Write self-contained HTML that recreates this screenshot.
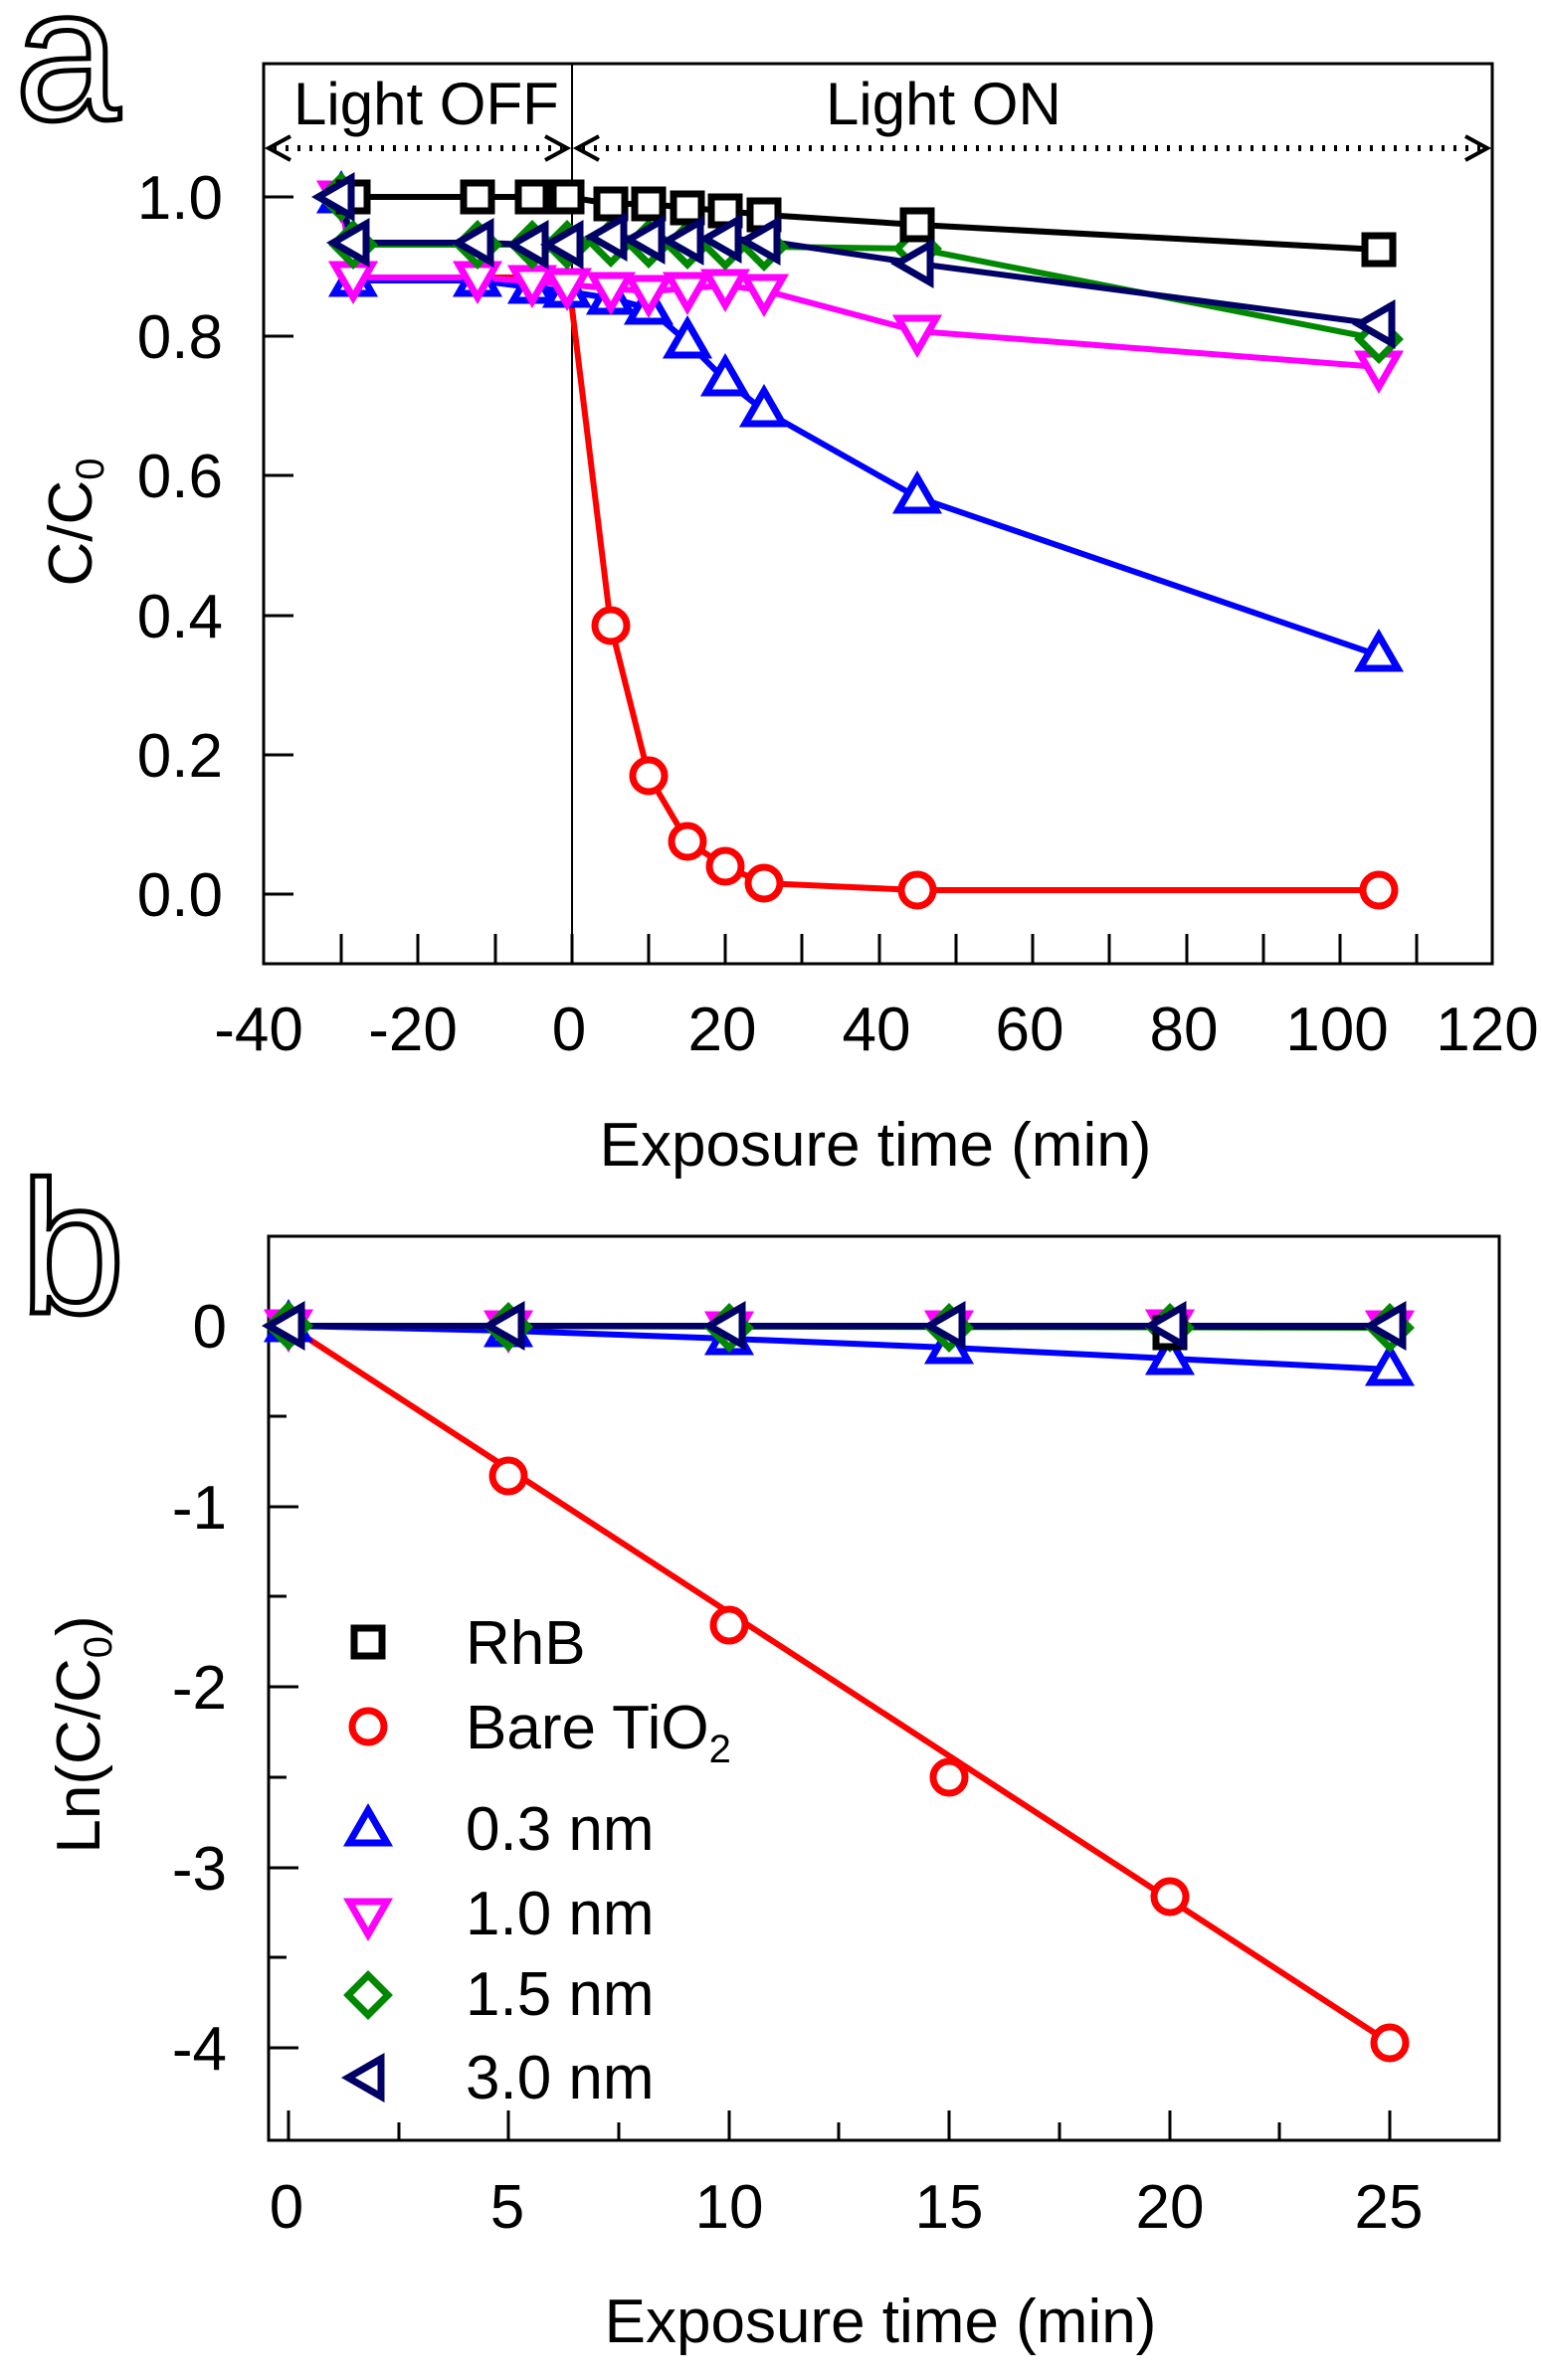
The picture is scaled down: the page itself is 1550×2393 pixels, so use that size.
<!DOCTYPE html>
<html><head><meta charset="utf-8"><style>html,body{margin:0;padding:0;background:#fff}svg{display:block}</style></head>
<body>
<svg width="1550" height="2393" viewBox="0 0 1550 2393" xmlns="http://www.w3.org/2000/svg" font-family="Liberation Sans, sans-serif">
<defs>
<symbol id="sq" overflow="visible"><rect x="-14" y="-14" width="28" height="28" fill="#fff" stroke-width="7"/></symbol>
<symbol id="ci" overflow="visible"><circle r="16" fill="#fff" stroke-width="7"/></symbol>
<symbol id="tu" overflow="visible"><polygon points="0,-20 19,13 -19,13" fill="#fff" stroke-width="7"/></symbol>
<symbol id="td" overflow="visible"><polygon points="0,20 19,-13 -19,-13" fill="#fff" stroke-width="7"/></symbol>
<symbol id="di" overflow="visible"><polygon points="0,-20 20,0 0,20 -20,0" fill="#fff" stroke-width="7"/></symbol>
<symbol id="tl" overflow="visible"><polygon points="-20,0 13,-19 13,19" fill="#fff" stroke-width="7"/></symbol>
</defs>
<rect width="1550" height="2393" fill="#fff"/>

<!-- Panel a -->
<text x="15" y="120" font-size="190" fill="#fff" stroke="#000" stroke-width="5">a</text>
<rect x="265" y="64" width="1235" height="905" fill="none" stroke="#000" stroke-width="3"/>
<line x1="575" y1="64" x2="575" y2="969" stroke="#000" stroke-width="2"/>
<g stroke="#000" stroke-width="3">
<line x1="265" y1="198" x2="295" y2="198"/><line x1="265" y1="338" x2="295" y2="338"/><line x1="265" y1="478" x2="295" y2="478"/><line x1="265" y1="619" x2="295" y2="619"/><line x1="265" y1="759" x2="295" y2="759"/><line x1="265" y1="899" x2="295" y2="899"/>
<line x1="343" y1="969" x2="343" y2="939"/><line x1="420" y1="969" x2="420" y2="939"/><line x1="498" y1="969" x2="498" y2="939"/><line x1="575" y1="969" x2="575" y2="939"/><line x1="652" y1="969" x2="652" y2="939"/><line x1="729" y1="969" x2="729" y2="939"/><line x1="806" y1="969" x2="806" y2="939"/><line x1="884" y1="969" x2="884" y2="939"/><line x1="961" y1="969" x2="961" y2="939"/><line x1="1038" y1="969" x2="1038" y2="939"/><line x1="1115" y1="969" x2="1115" y2="939"/><line x1="1193" y1="969" x2="1193" y2="939"/><line x1="1270" y1="969" x2="1270" y2="939"/><line x1="1347" y1="969" x2="1347" y2="939"/><line x1="1424" y1="969" x2="1424" y2="939"/>
</g>
<g font-size="62" text-anchor="end" fill="#000">
<text x="224" y="220">1.0</text><text x="224" y="360">0.8</text><text x="224" y="500">0.6</text><text x="224" y="641">0.4</text><text x="224" y="781">0.2</text><text x="224" y="921">0.0</text>
</g>
<g font-size="62" text-anchor="middle" fill="#000">
<text x="260" y="1056">-40</text><text x="415" y="1056">-20</text><text x="572" y="1056">0</text><text x="726" y="1056">20</text><text x="881" y="1056">40</text><text x="1035" y="1056">60</text><text x="1190" y="1056">80</text><text x="1344" y="1056">100</text><text x="1495" y="1056">120</text>
<text x="880" y="1172">Exposure time (min)</text>
</g>
<text transform="translate(92,525) rotate(-90)" font-size="62" text-anchor="middle">C/C<tspan font-size="40" dy="12">0</tspan></text>
<text x="295" y="125" font-size="60">Light OFF</text>
<text x="830" y="125" font-size="60">Light ON</text>
<g stroke="#000" stroke-width="6" stroke-dasharray="3,9" fill="none"><line x1="275" y1="149" x2="565" y2="149"/><line x1="585" y1="149" x2="1490" y2="149"/></g>
<g stroke="#000" stroke-width="4" fill="none"><polyline points="292,137 270,149 292,161"/><polyline points="548,137 570,149 548,161"/><polyline points="602,137 580,149 602,161"/><polyline points="1473,137 1495,149 1473,161"/></g>

<g fill="none" stroke-width="6">
<polyline stroke="#000" points="355,198 480,198 535,198 570,198 614,205 652,205 691,209 729,212 768,216 922,226 1386,251"/>
<polyline stroke="#f00" points="355,279 570,279 575,310 614,629 652,780 691,846 729,871 768,888 922,895 1386,895"/>
<polyline stroke="#00f" points="343,198 355,282 480,282 535,289 570,293 614,300 652,310 691,344 729,382 768,413 922,500 1386,659"/>
<polyline stroke="#f0f" points="343,198 355,279 480,279 535,283 570,286 614,290 652,293 691,290 729,287 768,292 922,333 1386,369"/>
<polyline stroke="#080" points="343,198 355,246 480,246 535,246 570,246 614,244 652,245 691,246 729,247 768,248 922,250 1386,341"/>
<polyline stroke="#006" points="340,198 355,244 480,244 535,246 570,246 614,238 652,241 691,242 729,240 768,242 922,265 1386,326"/>
</g>
<g stroke="#f00"><use href="#ci" x="614" y="629"/><use href="#ci" x="652" y="780"/><use href="#ci" x="691" y="846"/><use href="#ci" x="729" y="871"/><use href="#ci" x="768" y="888"/><use href="#ci" x="922" y="895"/><use href="#ci" x="1386" y="895"/></g>
<g stroke="#00f"><use href="#tu" x="343" y="198"/><use href="#tu" x="355" y="282"/><use href="#tu" x="480" y="282"/><use href="#tu" x="535" y="289"/><use href="#tu" x="570" y="293"/><use href="#tu" x="614" y="300"/><use href="#tu" x="652" y="310"/><use href="#tu" x="691" y="344"/><use href="#tu" x="729" y="382"/><use href="#tu" x="768" y="413"/><use href="#tu" x="922" y="500"/><use href="#tu" x="1386" y="659"/></g>
<g stroke="#f0f"><use href="#td" x="343" y="198"/><use href="#td" x="355" y="279"/><use href="#td" x="480" y="279"/><use href="#td" x="535" y="283"/><use href="#td" x="570" y="286"/><use href="#td" x="614" y="290"/><use href="#td" x="652" y="293"/><use href="#td" x="691" y="290"/><use href="#td" x="729" y="287"/><use href="#td" x="768" y="292"/><use href="#td" x="922" y="333"/><use href="#td" x="1386" y="369"/></g>
<g stroke="#080"><use href="#di" x="343" y="198"/><use href="#di" x="355" y="246"/><use href="#di" x="480" y="246"/><use href="#di" x="535" y="246"/><use href="#di" x="570" y="246"/><use href="#di" x="614" y="244"/><use href="#di" x="652" y="245"/><use href="#di" x="691" y="246"/><use href="#di" x="729" y="247"/><use href="#di" x="768" y="248"/><use href="#di" x="922" y="250"/><use href="#di" x="1386" y="341"/></g>
<g stroke="#000"><use href="#sq" x="355" y="198"/><use href="#sq" x="480" y="198"/><use href="#sq" x="535" y="198"/><use href="#sq" x="570" y="198"/><use href="#sq" x="614" y="205"/><use href="#sq" x="652" y="205"/><use href="#sq" x="691" y="209"/><use href="#sq" x="729" y="212"/><use href="#sq" x="768" y="216"/><use href="#sq" x="922" y="226"/><use href="#sq" x="1386" y="251"/></g>
<g stroke="#006"><use href="#tl" x="340" y="198"/><use href="#tl" x="355" y="244"/><use href="#tl" x="480" y="244"/><use href="#tl" x="535" y="246"/><use href="#tl" x="570" y="246"/><use href="#tl" x="614" y="238"/><use href="#tl" x="652" y="241"/><use href="#tl" x="691" y="242"/><use href="#tl" x="729" y="240"/><use href="#tl" x="768" y="242"/><use href="#tl" x="922" y="265"/><use href="#tl" x="1386" y="326"/></g>

<!-- Panel b -->
<text x="20" y="1320" font-size="190" fill="#fff" stroke="#000" stroke-width="5">b</text>
<rect x="270" y="1243" width="1237" height="909" fill="none" stroke="#000" stroke-width="3"/>
<g stroke="#000" stroke-width="3">
<line x1="270" y1="1333" x2="300" y2="1333"/><line x1="270" y1="1424" x2="288" y2="1424"/><line x1="270" y1="1515" x2="300" y2="1515"/><line x1="270" y1="1605" x2="288" y2="1605"/><line x1="270" y1="1696" x2="300" y2="1696"/><line x1="270" y1="1787" x2="288" y2="1787"/><line x1="270" y1="1878" x2="300" y2="1878"/><line x1="270" y1="1968" x2="288" y2="1968"/><line x1="270" y1="2059" x2="300" y2="2059"/>
<line x1="290" y1="2152" x2="290" y2="2122"/><line x1="401" y1="2152" x2="401" y2="2134"/><line x1="511" y1="2152" x2="511" y2="2122"/><line x1="622" y1="2152" x2="622" y2="2134"/><line x1="733" y1="2152" x2="733" y2="2122"/><line x1="843" y1="2152" x2="843" y2="2134"/><line x1="954" y1="2152" x2="954" y2="2122"/><line x1="1065" y1="2152" x2="1065" y2="2134"/><line x1="1176" y1="2152" x2="1176" y2="2122"/><line x1="1286" y1="2152" x2="1286" y2="2134"/><line x1="1397" y1="2152" x2="1397" y2="2122"/>
</g>
<g font-size="62" text-anchor="end" fill="#000">
<text x="228" y="1355">0</text><text x="228" y="1537">-1</text><text x="228" y="1718">-2</text><text x="228" y="1900">-3</text><text x="228" y="2081">-4</text>
</g>
<g font-size="62" text-anchor="middle" fill="#000">
<text x="288" y="2240">0</text><text x="510" y="2240">5</text><text x="733" y="2240">10</text><text x="954" y="2240">15</text><text x="1176" y="2240">20</text><text x="1396" y="2240">25</text>
<text x="885" y="2355">Exposure time (min)</text>
</g>
<text transform="translate(100,1744) rotate(-90)" font-size="62" text-anchor="middle">Ln(C/C<tspan font-size="40" dy="12">0</tspan><tspan dy="-12">)</tspan></text>

<g fill="none" stroke-width="6">
<line x1="290" y1="1333" x2="1397" y2="2054" stroke="#f00"/>
<polyline stroke="#00f" points="290,1333 511,1338 733,1346 954,1355 1176,1366 1397,1377"/>
<line x1="290" y1="1333" x2="1397" y2="1335" stroke="#080"/>
<line x1="290" y1="1333" x2="1397" y2="1334" stroke="#000"/>
<line x1="290" y1="1333" x2="1397" y2="1333" stroke="#006"/>
</g>
<g stroke="#f00"><use href="#ci" x="511" y="1484"/><use href="#ci" x="733" y="1634"/><use href="#ci" x="954" y="1787"/><use href="#ci" x="1176" y="1907"/><use href="#ci" x="1397" y="2054"/></g>
<g stroke="#f0f"><use href="#td" x="290" y="1333"/><use href="#td" x="511" y="1334"/><use href="#td" x="733" y="1335"/><use href="#td" x="954" y="1334"/><use href="#td" x="1176" y="1333"/><use href="#td" x="1397" y="1334"/></g>
<g stroke="#00f"><use href="#tu" x="290" y="1333"/><use href="#tu" x="511" y="1338"/><use href="#tu" x="733" y="1346"/><use href="#tu" x="954" y="1355"/><use href="#tu" x="1176" y="1366"/><use href="#tu" x="1397" y="1377"/></g>
<g stroke="#080"><use href="#di" x="290" y="1333"/><use href="#di" x="511" y="1334"/><use href="#di" x="733" y="1335"/><use href="#di" x="954" y="1335"/><use href="#di" x="1176" y="1335"/><use href="#di" x="1397" y="1335"/></g>
<g stroke="#000"><use href="#sq" x="1176" y="1340"/></g>
<g stroke="#006"><use href="#tl" x="290" y="1333"/><use href="#tl" x="511" y="1333"/><use href="#tl" x="733" y="1333"/><use href="#tl" x="954" y="1333"/><use href="#tl" x="1176" y="1333"/><use href="#tl" x="1397" y="1333"/></g>

<!-- legend -->
<use href="#sq" x="370" y="1651" stroke="#000"/>
<use href="#ci" x="370" y="1736" stroke="#f00"/>
<use href="#tu" x="370" y="1840" stroke="#00f"/>
<use href="#td" x="370" y="1925" stroke="#f0f"/>
<use href="#di" x="370" y="2006" stroke="#080"/>
<use href="#tl" x="370" y="2089" stroke="#006"/>
<g font-size="62" fill="#000">
<text x="468" y="1673">RhB</text>
<text x="468" y="1758">Bare TiO<tspan font-size="40" dy="14">2</tspan></text>
<text x="468" y="1860">0.3 nm</text>
<text x="468" y="1945">1.0 nm</text>
<text x="468" y="2026">1.5 nm</text>
<text x="468" y="2110">3.0 nm</text>
</g>
</svg>
</body></html>
